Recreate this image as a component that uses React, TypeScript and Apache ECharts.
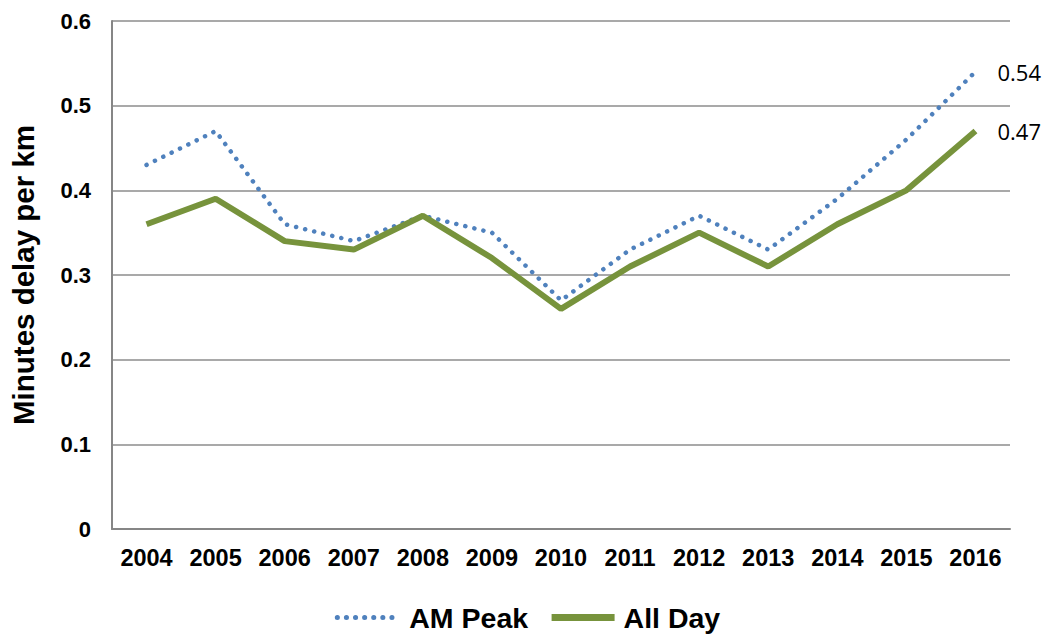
import React, { useEffect, useRef } from "react";
import * as echarts from "echarts";

const years = ["2004", "2005", "2006", "2007", "2008", "2009", "2010", "2011", "2012", "2013", "2014", "2015", "2016"];
const amPeak = [0.43, 0.47, 0.36, 0.34, 0.37, 0.35, 0.27, 0.33, 0.37, 0.33, 0.39, 0.46, 0.54];
const allDay = [0.36, 0.39, 0.34, 0.33, 0.37, 0.32, 0.26, 0.31, 0.35, 0.31, 0.36, 0.4, 0.47];
const yTicks = [0, 0.1, 0.2, 0.3, 0.4, 0.5, 0.6];

const endLabel = {
  show: true,
  distance: 22,
  formatter: (p: any) => String(p.value),
  color: "#000",
  fontFamily: "Open Sans",
  fontSize: 22,
};

export default function App() {
  const ref = useRef<HTMLDivElement>(null);
  useEffect(() => {
    const chart = echarts.init(ref.current!, null, { renderer: "svg" });
    chart.setOption({
      animation: false,
      grid: { left: 109, right: 45, top: 21, bottom: 108 },
      xAxis: {
        type: "category",
        data: years,
        boundaryGap: true,
        axisLine: { lineStyle: { color: "#868686", width: 2 } },
        axisTick: { show: false },
        axisLabel: {
          color: "#000",
          fontFamily: "Liberation Sans",
          fontWeight: "bold",
          fontSize: 23.5,
          margin: 17,
        },
      },
      yAxis: {
        type: "value",
        min: 0,
        max: 0.6,
        interval: 0.1,
        name: "Minutes delay per km",
        nameLocation: "middle",
        nameGap: 74,
        nameTextStyle: {
          color: "#000",
          fontFamily: "Liberation Sans",
          fontWeight: "bold",
          fontSize: 29.5,
        },
        axisLine: { show: true, lineStyle: { color: "#868686", width: 2 } },
        axisTick: { show: false },
        splitLine: { lineStyle: { color: "#8c8c8c", width: 1.5 } },
        axisLabel: {
          color: "#000",
          fontFamily: "Liberation Sans",
          fontWeight: "bold",
          fontSize: 22,
          margin: 21,
          formatter: (v: number) => {
            const t = yTicks.find((x) => Math.abs(x - v) < 1e-9);
            return t === undefined ? "" : String(t);
          },
        },
      },
      legend: {
        bottom: 0,
        left: "center",
        itemWidth: 63,
        itemHeight: 14,
        itemGap: 20,
        itemStyle: { opacity: 0 },
        textStyle: {
          color: "#000",
          fontFamily: "Liberation Sans",
          fontWeight: "bold",
          fontSize: 28.5,
          padding: [0, 0, 0, 4],
        },
        data: [
          { name: "AM Peak", lineStyle: { width: 5, type: [0.1, 9], cap: "round" } },
          { name: "All Day", lineStyle: { width: 7 } },
        ],
      },
      series: [
        {
          name: "AM Peak",
          type: "line",
          data: amPeak,
          symbol: "none",
          lineStyle: { color: "#4F81BD", width: 4.5, type: [0.1, 9.2], cap: "round" },
          itemStyle: { color: "#4F81BD" },
          endLabel,
        },
        {
          name: "All Day",
          type: "line",
          data: allDay,
          symbol: "none",
          lineStyle: { color: "#77933C", width: 6 },
          itemStyle: { color: "#77933C" },
          endLabel,
        },
      ],
    });
    return () => chart.dispose();
  }, []);
  return (
    <div
      ref={ref}
      style={{ position: "absolute", left: 0, top: 0, width: 1055, height: 637 }}
    />
  );
}
